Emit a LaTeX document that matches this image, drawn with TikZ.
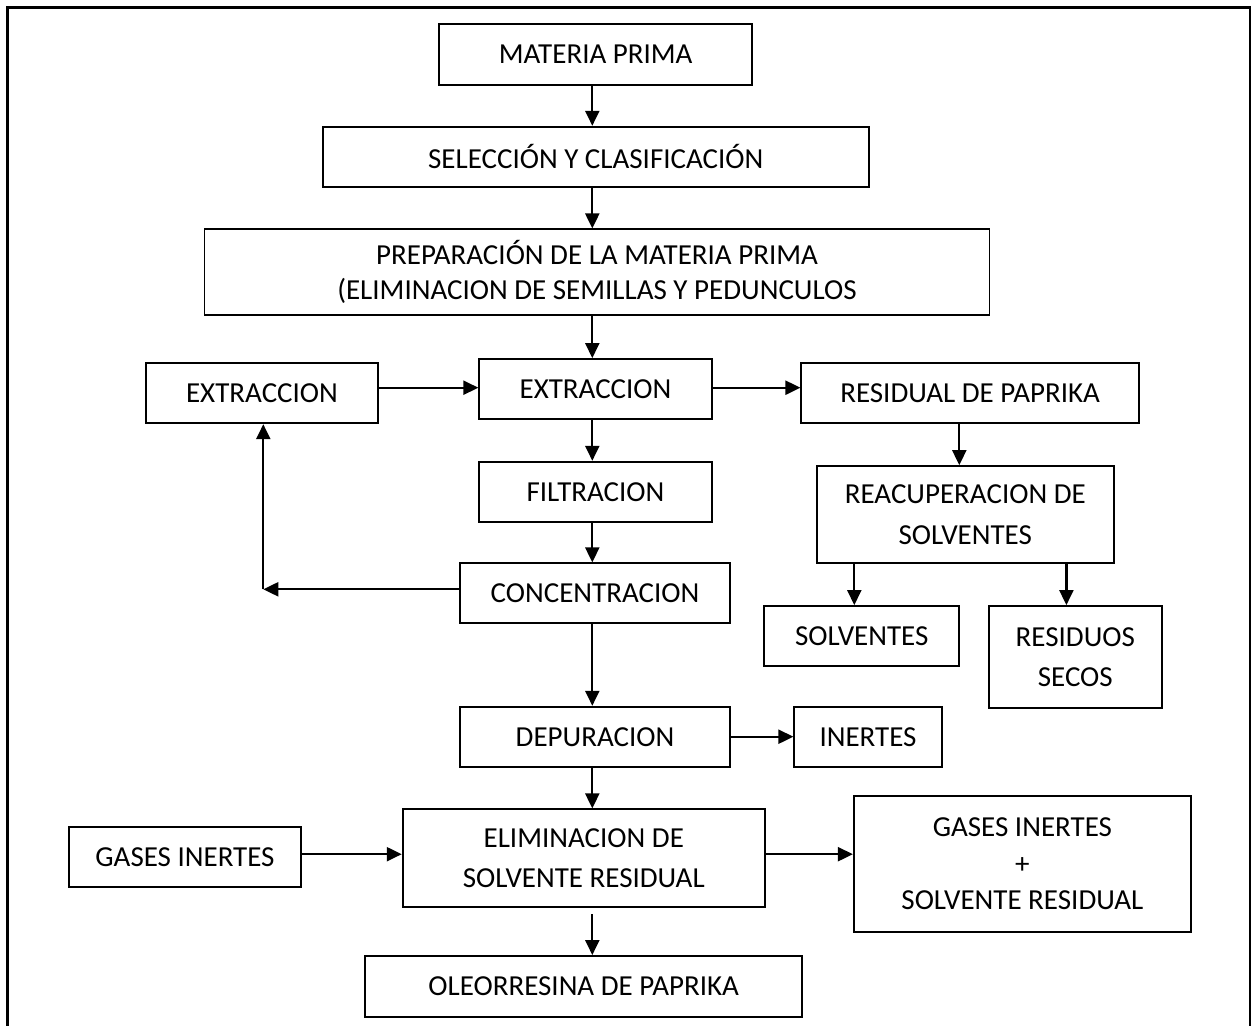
\documentclass[tikz,border=0pt]{standalone}
\usepackage{fontspec}
\setmainfont{Carlito}
\usetikzlibrary{arrows.meta,calc}
\begin{document}
\begin{tikzpicture}[x=1pt,y=-1pt,
  box/.style={draw=black,line width=1.8pt,rectangle,inner sep=0pt,align=center,
    font=\fontsize{29}{35}\selectfont},
  arr/.style={line width=2.2pt,-{Triangle[length=15pt,width=14pt]}},
  plain/.style={line width=2.2pt}]
\useasboundingbox (0,0) rectangle (1255,1025);
\fill[white] (0,0) rectangle (1255,1025);
% frame (open at bottom)
\draw[line width=2.4pt] (7.5,1026) -- (7.5,7.5) -- (1250,7.5) -- (1250,1026);

\coordinate (ax) at (592.3,0);

\node[box,minimum width=312.7pt,minimum height=60.4pt] (mp) at (595.7,54.5) {MATERIA PRIMA};
\node[box,minimum width=546.3pt,minimum height=60pt] (sel) at (595.8,156.7) {SELECCIÓN Y CLASIFICACIÓN};
\node[box,minimum width=785pt,minimum height=85.7pt] (prep) at (597,272.2) {PREPARACIÓN DE LA MATERIA PRIMA\\(ELIMINACION DE SEMILLAS Y PEDUNCULOS};
\node[box,minimum width=232.6pt,minimum height=60.6pt] (extL) at (262,393) {EXTRACCION};
\node[box,minimum width=232.5pt,minimum height=60pt] (extC) at (595.5,389) {EXTRACCION};
\node[box,minimum width=337.5pt,minimum height=60.6pt] (res) at (970.1,393) {RESIDUAL DE PAPRIKA};
\node[box,minimum width=232.5pt,minimum height=60pt] (fil) at (595.5,491.7) {FILTRACION};
\node[box,minimum width=270pt,minimum height=60pt] (conc) at (595,593.3) {CONCENTRACION};
\node[box,minimum width=297.1pt,minimum height=97.3pt,font=\fontsize{29}{41.7}\selectfont] (reac) at (965.3,514.7) {REACUPERACION DE\\SOLVENTES};
\node[box,minimum width=195pt,minimum height=60pt] (solv) at (861.8,636) {SOLVENTES};
\node[box,minimum width=172.9pt,minimum height=102pt,font=\fontsize{29}{40}\selectfont] (resid) at (1075.3,657) {RESIDUOS\\SECOS};
\node[box,minimum width=270pt,minimum height=60pt] (dep) at (595,736.7) {DEPURACION};
\node[box,minimum width=147.4pt,minimum height=60pt] (inert) at (868,736.7) {INERTES};
\node[box,minimum width=232pt,minimum height=60pt] (gasL) at (185,856.7) {GASES INERTES};
\node[box,minimum width=362.3pt,minimum height=98pt,font=\fontsize{29}{40}\selectfont] (elim) at (583.8,858.3) {ELIMINACION DE\\SOLVENTE RESIDUAL};
\node[box,minimum width=337.2pt,minimum height=136pt,font=\fontsize{29}{36.7}\selectfont] (gasR) at (1022.4,863.7) {GASES INERTES\\+\\SOLVENTE RESIDUAL};
\node[box,minimum width=437.3pt,minimum height=60.7pt] (oleo) at (583.7,986.3) {OLEORRESINA DE PAPRIKA};

% main vertical flow
\draw[arr] (mp.south -| ax) -- (sel.north -| ax);
\draw[arr] (sel.south -| ax) -- (prep.north -| ax);
\draw[arr] (prep.south -| ax) -- (extC.north -| ax);
\draw[arr] (extC.south -| ax) -- (fil.north -| ax);
\draw[arr] (fil.south -| ax) -- (conc.north -| ax);
\draw[arr] (conc.south -| ax) -- (dep.north -| ax);
\draw[arr] (dep.south -| ax) -- (elim.north -| ax);
\draw[arr,shorten <=6pt] (elim.south -| ax) -- (oleo.north -| ax);

% horizontal arrows
\coordinate (ya) at (0,387.7);
\draw[arr] (extL.east |- ya) -- (extC.west |- ya);
\draw[arr] (extC.east |- ya) -- (res.west |- ya);
\coordinate (rx) at (959.3,0);
\draw[arr] (res.south -| rx) -- (reac.north -| rx);
\coordinate (sx) at (854.3,0);
\coordinate (dx) at (1066.4,0);
\draw[arr] (reac.south -| sx) -- (solv.north -| sx);
\draw[arr] (reac.south -| dx) -- (resid.north -| dx);
\coordinate (yi) at (0,736.7);
\draw[arr] (dep.east |- yi) -- (inert.west |- yi);
\coordinate (ye) at (0,854.2);
\draw[arr] (gasL.east |- ye) -- (elim.west |- ye);
\draw[arr] (elim.east |- ye) -- (gasR.west |- ye);

% recycle loop
\coordinate (lc) at (263.3,589.3);
\draw[arr] (conc.west |- lc) -- (lc);
\draw[arr] (lc) -- (extL.south -| lc);
\end{tikzpicture}
\end{document}
